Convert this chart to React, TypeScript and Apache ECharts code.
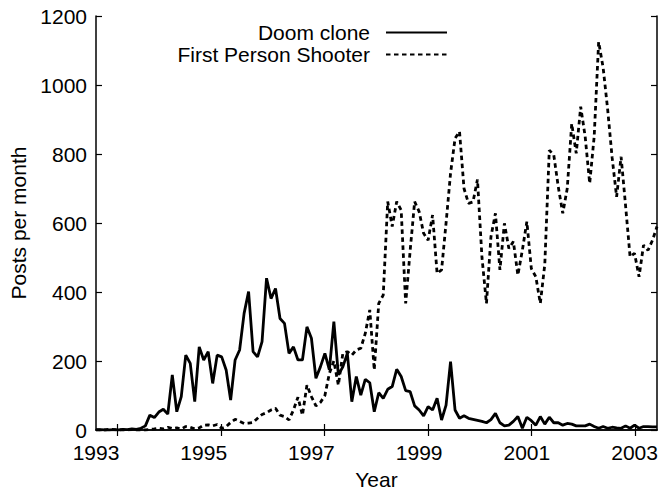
import React, { useEffect, useRef } from "react";
import * as echarts from "echarts";

const startYear = 1993;
const monthsShown = 126;
const yearLabels = [1993, 1995, 1997, 1999, 2001, 2003];
const xTickValues = [1993.39, 1995.32, 1997.24, 1999.17, 2001.09, 2003.02];
const yMin = 0;
const yMax = 1200;
const yStep = 200;
const seriesNames = ["Doom clone", "First Person Shooter"];

// monthly posts, Jan 1993 .. Jun 2003
const doomClone = [
  0, 1, 0, 0, 1, 0, 2, 1, 3, 2, 5, 12,
  43, 36, 52, 60, 46, 160, 53, 97, 217, 193, 82, 241,
  203, 227, 135, 217, 212, 174, 87, 203, 232, 338, 401, 227,
  212, 256, 440, 381, 410, 323, 309, 222, 241, 203, 203, 299,
  266, 150, 183, 222, 174, 314, 160, 183, 222, 82, 155, 101,
  147, 137, 53, 108, 92, 118, 126, 176, 155, 114, 111, 70,
  58, 41, 68, 58, 92, 29, 72, 198, 58, 34, 41, 34,
  31, 28, 25, 21, 30, 48, 21, 12, 14, 25, 39, 5,
  37, 27, 14, 39, 17, 37, 21, 21, 14, 19, 17, 12,
  12, 12, 17, 10, 5, 10, 5, 8, 6, 5, 12, 5,
  14, 5, 10, 10, 9, 9,
];

const firstPersonShooter = [
  1, 0, 0, 2, 1, 0, 0, 0, 1, 0, 0, 0,
  2, 3, 5, 3, 8, 4, 6, 3, 10, 8, 3, 6,
  14, 15, 12, 16, 5, 10, 22, 31, 25, 19, 20, 22,
  34, 45, 50, 58, 63, 43, 39, 29, 58, 95, 43, 130,
  97, 70, 80, 100, 164, 200, 130, 222, 227, 217, 232, 237,
  280, 348, 174, 367, 391, 662, 590, 662, 637, 367, 520, 662,
  633, 570, 550, 623, 454, 464, 600, 744, 845, 865, 700, 657,
  661, 726, 500, 367, 560, 628, 464, 599, 526, 546, 449, 521,
  604, 468, 444, 367, 480, 811, 797, 705, 628, 700, 888, 802,
  937, 850, 715, 850, 1125, 1050, 930, 790, 676, 792, 650, 502,
  512, 444, 536, 521, 550, 590,
];

const FONT = "'Liberation Sans', Arial, Helvetica, sans-serif";

export default function App() {
  const ref = useRef<HTMLDivElement>(null);

  useEffect(() => {
    if (!ref.current) return;
    const chart = echarts.init(ref.current, null, { renderer: "svg" });
    const toPairs = (vals: number[]) => vals.map((v, i) => [startYear + i / 12, v]);
    const xMax = startYear + (monthsShown - 1) / 12;
    const black = "#000";
    const textStyle = { color: black, fontFamily: FONT, fontSize: 21 };

    const legendBase = {
      orient: "vertical",
      align: "right",
      right: 212,
      itemWidth: 61,
      itemHeight: 10,
      padding: 0,
      selectedMode: false,
      itemStyle: { opacity: 0, borderWidth: 0 },
      textStyle: { ...textStyle, padding: [0, 11, 0, 0] },
    };

    chart.setOption({
      animation: false,
      backgroundColor: "#fff",
      grid: { left: 96, right: 3, top: 16, bottom: 63, containLabel: false, outerBoundsMode: "none" },
      legend: [
        { ...legendBase, data: [seriesNames[0]], top: 22 },
        { ...legendBase, data: [seriesNames[1]], top: 44 },
      ],
      xAxis: [
        {
          type: "value",
          min: startYear,
          max: xMax,
          position: "bottom",
          name: "Year",
          nameLocation: "middle",
          nameGap: 39,
          nameTextStyle: textStyle,
          axisLine: { show: true, lineStyle: { color: black, width: 1.5 } },
          axisTick: { show: true, inside: true, length: 6, customValues: xTickValues, lineStyle: { color: black, width: 1.2 } },
          axisLabel: {
            show: true,
            customValues: yearLabels,
            margin: 14,
            lineHeight: 17,
            ...textStyle,
            formatter: (v: number) => String(Math.round(v)),
          },
          splitLine: { show: false },
        },
        {
          type: "value",
          min: startYear,
          max: xMax,
          position: "top",
          axisLine: { show: true, lineStyle: { color: black, width: 1.5 } },
          axisTick: { show: true, inside: true, length: 6, customValues: xTickValues, lineStyle: { color: black, width: 1.2 } },
          axisLabel: { show: false },
          splitLine: { show: false },
        },
      ],
      yAxis: [
        {
          type: "value",
          min: yMin,
          max: yMax,
          interval: yStep,
          position: "left",
          name: "Posts per month",
          nameLocation: "middle",
          nameGap: 66,
          nameTextStyle: textStyle,
          axisLine: { show: true, lineStyle: { color: black, width: 1.5 } },
          axisTick: { show: true, inside: true, length: 6, lineStyle: { color: black, width: 1.2 } },
          axisLabel: {
            show: true,
            margin: 9,
            lineHeight: 17,
            ...textStyle,
            formatter: (v: number) => String(v),
          },
          splitLine: { show: false },
        },
        {
          type: "value",
          min: yMin,
          max: yMax,
          interval: yStep,
          position: "right",
          axisLine: { show: true, lineStyle: { color: black, width: 1.5 } },
          axisTick: { show: true, inside: true, length: 6, lineStyle: { color: black, width: 1.2 } },
          axisLabel: { show: false },
          splitLine: { show: false },
        },
      ],
      series: [
        {
          name: seriesNames[0],
          type: "line",
          xAxisIndex: 0,
          yAxisIndex: 0,
          data: toPairs(doomClone),
          symbol: "none",
          showSymbol: false,
          lineStyle: { color: black, width: 2.8, type: "solid" },
          itemStyle: { color: black },
          silent: true,
        },
        {
          name: seriesNames[1],
          type: "line",
          xAxisIndex: 0,
          yAxisIndex: 0,
          data: toPairs(firstPersonShooter),
          symbol: "none",
          showSymbol: false,
          lineStyle: { color: black, width: 2.8, type: [4.5, 3.5] },
          itemStyle: { color: black },
          silent: true,
        },
      ],
    });

    return () => chart.dispose();
  }, []);

  return (
    <div
      ref={ref}
      style={{ position: "fixed", left: 0, top: 0, width: 660, height: 493, background: "#fff" }}
    />
  );
}
